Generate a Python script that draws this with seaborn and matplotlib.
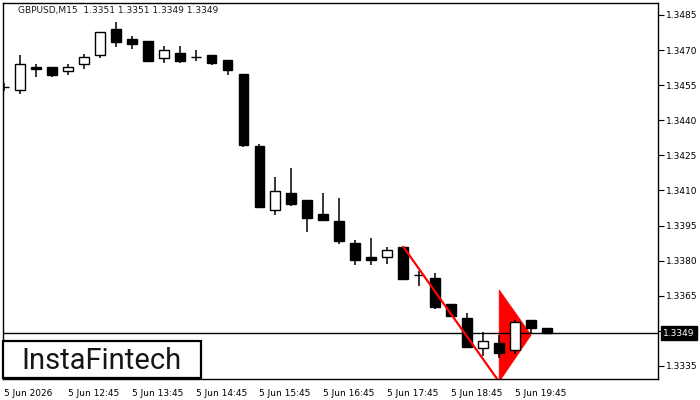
import numpy as np
import pandas as pd
import matplotlib
matplotlib.use("Agg")
import matplotlib.pyplot as plt
import seaborn as sns
from matplotlib.patches import Rectangle, Polygon
from matplotlib.transforms import blended_transform_factory

# ---- data ----
opens = [1.34542, 1.34528, 1.34628, 1.34628, 1.34609, 1.34639, 1.34678, 1.34790, 1.34747, 1.34739,
         1.34668, 1.34688, 1.34672, 1.34679, 1.34658, 1.34599, 1.34290, 1.34015, 1.34089, 1.34058,
         1.34000, 1.33970, 1.33876, 1.33816, 1.33815, 1.33859, 1.33739, 1.33725, 1.33614, 1.33554,
         1.33426, 1.33448, 1.33417, 1.33547, 1.3351]
highs = [1.34559, 1.34679, 1.34641, 1.34628, 1.34639, 1.34682, 1.34776, 1.34821, 1.34760, 1.34739,
         1.34719, 1.34719, 1.34699, 1.34679, 1.34658, 1.34599, 1.34299, 1.34158, 1.34196, 1.34058,
         1.34089, 1.34068, 1.33888, 1.33897, 1.33859, 1.33859, 1.33757, 1.33747, 1.33614, 1.33576,
         1.33494, 1.33482, 1.33545, 1.33547, 1.3351]
lows = [1.34525, 1.34514, 1.34586, 1.34586, 1.34595, 1.34618, 1.34668, 1.34715, 1.34706, 1.34655,
        1.34646, 1.34646, 1.34653, 1.34636, 1.34595, 1.34286, 1.34027, 1.33997, 1.34035, 1.33924,
        1.33975, 1.33873, 1.33782, 1.33782, 1.33785, 1.33723, 1.33693, 1.33595, 1.33565, 1.33432,
        1.33394, 1.33385, 1.33401, 1.33487, 1.3349]
closes = [1.34542, 1.34639, 1.34618, 1.34595, 1.34626, 1.34671, 1.34776, 1.34736, 1.34727, 1.34655,
          1.34699, 1.34655, 1.34672, 1.34646, 1.34616, 1.34296, 1.34027, 1.34097, 1.34044, 1.33984,
          1.33975, 1.33885, 1.33804, 1.33804, 1.33844, 1.33723, 1.33739, 1.33603, 1.33565, 1.33432,
          1.33456, 1.33403, 1.33537, 1.33514, 1.3349]

tick_idx = [0, 4, 8, 12, 16, 20, 24, 28, 32]
tick_labels = ["5 Jun 2026", "5 Jun 12:45", "5 Jun 13:45", "5 Jun 14:45", "5 Jun 15:45",
               "5 Jun 16:45", "5 Jun 17:45", "5 Jun 18:45", "5 Jun 19:45"]
y_ticks = [1.3335, 1.3350, 1.3365, 1.3380, 1.3395, 1.3410, 1.3425, 1.3440, 1.3455, 1.3470, 1.3485]
y_tick_labels = ["1.3335", "", "1.3365", "1.3380", "1.3395", "1.3410", "1.3425", "1.3440",
                 "1.3455", "1.3470", "1.3485"]
last_price = 1.3349
title = "GBPUSD,M15  1.3351 1.3351 1.3349 1.3349"
logo_text = "InstaFintech"
trend_x = [25, 31]
trend_y = [1.33859, 1.33282]
flag_x = [31, 31, 33]
flag_y = [1.33675, 1.33282, 1.33482]

# ---- figure ----
sns.set_style("white")
plt.rcParams['font.family'] = ['DejaVu Sans']
fig = plt.figure(figsize=(7, 4), dpi=100)
ax = fig.add_axes([3 / 700, 21 / 400, 655 / 700, 376 / 400])

df = pd.DataFrame(dict(idx=np.arange(len(opens)), o=opens, h=highs, l=lows, c=closes))
df["bottom"] = df[["o", "c"]].min(axis=1)
df["height"] = (df["c"] - df["o"]).abs()
df["fill"] = np.where(df["c"] > df["o"], "white", "black")

# pennant triangle (behind)
ax.add_patch(Polygon(list(zip(flag_x, flag_y)), closed=True, facecolor="red",
                     edgecolor="red", linewidth=0.5, zorder=1))
# last price line
ax.axhline(last_price, color="black", lw=1.0, zorder=1.5)
# wicks
ax.vlines(df["idx"], df["l"], df["h"], color="black", lw=1.1, zorder=2)
# bodies
ax.bar(df["idx"], df["height"], bottom=df["bottom"], width=0.62, color=df["fill"],
       edgecolor="black", linewidth=1.0, zorder=3)
# trend line
sns.lineplot(x=trend_x, y=trend_y, color="red", lw=1.6, ax=ax, zorder=4)

ax.set_xlim(-0.05, 40.94)
ax.set_ylim(1.33294, 1.34901)

ax.yaxis.tick_right()
ax.set_yticks(y_ticks)
ax.set_yticklabels(y_tick_labels)
ax.set_xticks(tick_idx)
ax.set_xticklabels(tick_labels, ha="left")
ax.tick_params(axis="both", direction="out", length=4, width=0.8, labelsize=6.5,
               colors="black", pad=2)
ax.tick_params(axis="x", pad=3)
for s in ax.spines.values():
    s.set_visible(True)
    s.set_color("black")
    s.set_linewidth(1.0)
ax.set_xlabel("")
ax.set_ylabel("")

# price label on the right
tr = blended_transform_factory(ax.transAxes, ax.transData)
ax.text(1.008, last_price, "1.3349", transform=tr, color="white", fontsize=6.5,
        va="center", ha="left", clip_on=False,
        bbox=dict(facecolor="black", edgecolor="black", boxstyle="square,pad=0.25"))

# title
fig.text(18 / 700, 1 - 10 / 400, title, fontsize=6.5, va="center", ha="left", color="#1a1a1a")

# logo
ax.add_patch(Rectangle((0.0, 0.003), 0.302, 0.098, transform=ax.transAxes,
                       facecolor="white", edgecolor="black", linewidth=1.6, zorder=6,
                       clip_on=False))
ax.text(0.151, 0.0266, logo_text, transform=ax.transAxes, fontsize=21, ha="center",
        va="baseline", color="#161616", zorder=7, family=["Roboto", "DejaVu Sans"])

fig.savefig("out.png", dpi=100)
